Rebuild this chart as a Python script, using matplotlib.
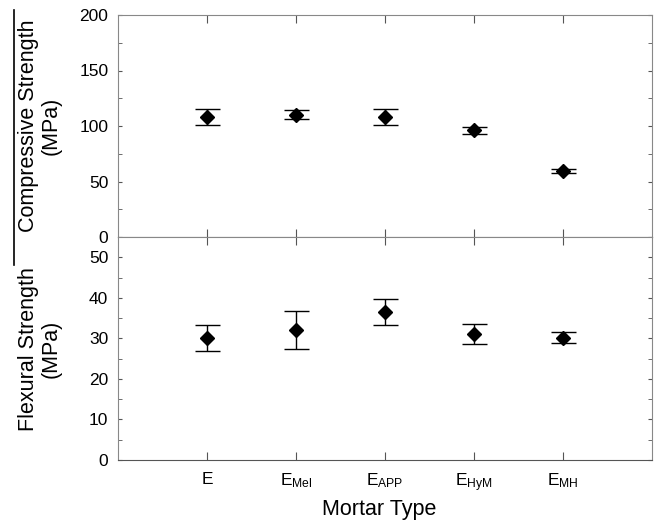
import matplotlib
matplotlib.use("Agg")
import matplotlib.pyplot as plt
from matplotlib.lines import Line2D
from matplotlib.ticker import MultipleLocator

plt.rcParams['font.family'] = ['Liberation Sans', 'DejaVu Sans']
plt.rcParams['mathtext.fontset'] = 'custom'
plt.rcParams['mathtext.rm'] = 'Liberation Sans'
plt.rcParams['mathtext.it'] = 'Liberation Sans:italic'
plt.rcParams['mathtext.bf'] = 'Liberation Sans:bold'

categories = [r'$\mathrm{E}$', r'$\mathrm{E}_{\mathrm{Mel}}$', r'$\mathrm{E}_{\mathrm{APP}}$',
              r'$\mathrm{E}_{\mathrm{HyM}}$', r'$\mathrm{E}_{\mathrm{MH}}$']
compressive = [108, 110, 108, 96, 59.5]
compressive_err = [7, 4, 7, 3, 2.2]
flexural = [30.0, 32.0, 36.4, 31.0, 30.2]
flexural_err = [3.2, 4.7, 3.2, 2.5, 1.4]

W, H = 661, 524
fig = plt.figure(figsize=(W / 100, H / 100), dpi=100)
left, right = 118, 652
ax1 = fig.add_axes([left / W, 1 - 237 / H, (right - left) / W, 222 / H])
ax2 = fig.add_axes([left / W, 1 - 460 / H, (right - left) / W, 223 / H])

x = list(range(1, len(categories) + 1))

for ax, vals, errs in [(ax1, compressive, compressive_err), (ax2, flexural, flexural_err)]:
    ax.errorbar(x, vals, yerr=errs, fmt='D', color='black', markersize=7,
                ecolor='black', elinewidth=1, capsize=9, capthick=1)
    ax.set_xlim(0, 6)
    ax.set_xticks(x)
    for side in ['left', 'right', 'top']:
        ax.spines[side].set_color('#888888')
    ax.spines['bottom'].set_color('#555555')
    ax.tick_params(axis='y', which='both', direction='in', length=3, color='#555555',
                   left=True, right=True, labelsize=12.5, pad=7)
    ax.tick_params(axis='x', which='both', direction='in', length=6, color='#555555',
                   top=True, bottom=True)

ax1.set_ylim(0, 200)
ax1.yaxis.set_major_locator(MultipleLocator(50))
ax1.yaxis.set_minor_locator(MultipleLocator(25))
ax1.tick_params(axis='x', labelbottom=False)

ax2.set_ylim(0, 55)
ax2.yaxis.set_major_locator(MultipleLocator(10))
ax2.yaxis.set_minor_locator(MultipleLocator(5))
ax2.set_xticklabels(categories, fontsize=12.5)
ax2.tick_params(axis='x', pad=8)

fig.text(40 / W, 1 - 126 / H, 'Compressive Strength\n(MPa)', rotation=90, ha='center', va='center',
         fontsize=15.5, linespacing=1.12)
fig.text(40 / W, 1 - 349 / H, 'Flexural Strength\n(MPa)', rotation=90, ha='center', va='center',
         fontsize=15.5, linespacing=1.12)
fig.text(379 / W, 1 - 510 / H, 'Mortar Type', ha='center', va='center', fontsize=15.5)

fig.add_artist(Line2D([14 / W, 14 / W], [1 - 10 / H, 1 - 265 / H], color='black', lw=1.2,
                      transform=fig.transFigure))

fig.savefig('out.png', dpi=100)
